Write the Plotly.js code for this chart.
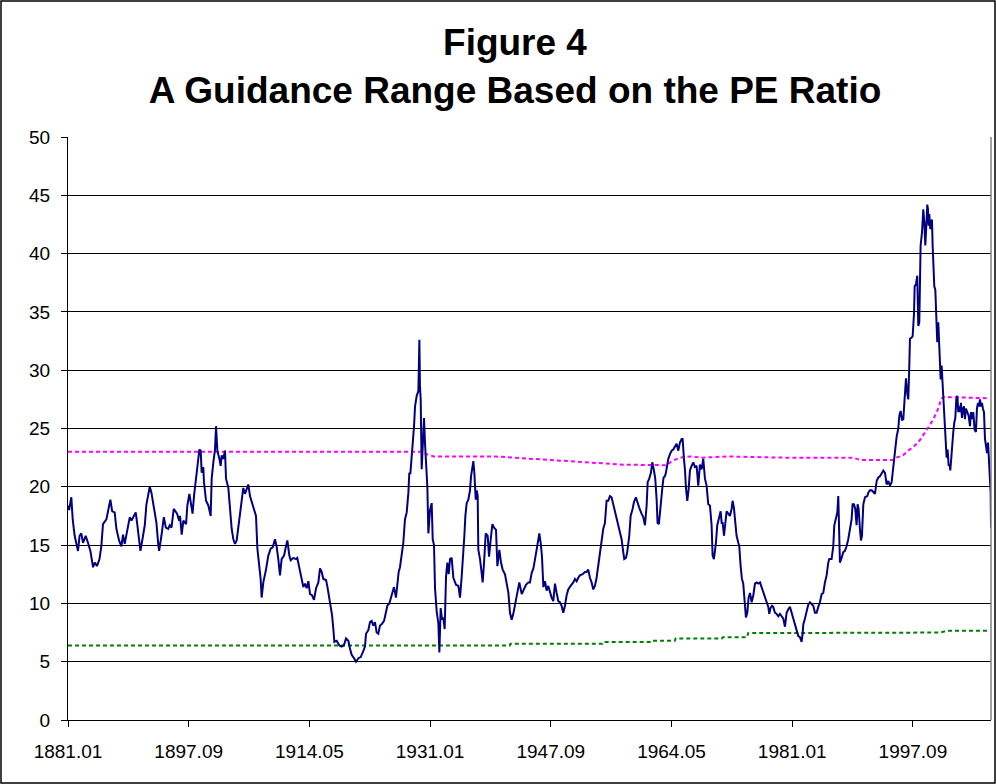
<!DOCTYPE html>
<html>
<head>
<meta charset="utf-8">
<script src="https://cdn.plot.ly/plotly-3.0.1.min.js"></script>
<style>
  html, body { margin: 0; padding: 0; background: #fff; }
  #chart { width: 996px; height: 784px; }
</style>
</head>
<body>
<div id="chart"></div>
<script>
// Monthly PE ratio (decimal year, value)
const peYears = [
1881.00,1881.15,1881.46,1881.65,1881.92,1882.20,1882.38,1882.60,1882.84,1883.07,1883.44,1883.76,1884.09,1884.46,1884.70,1885.00,1885.35,1885.60,1885.83,1886.30,1886.53,1886.85,1887.10,1887.45,1887.68,1888.05,1888.37,1888.60,1888.83,1889.06,1889.30,1889.53,1889.76,1890.08,1890.35,1890.54,1890.82,1891.00,1891.28,1891.60,1891.83,1892.10,1892.29,1892.52,1892.75,1892.98,1893.21,1893.44,1893.58,1893.90,1894.23,1894.51,1894.83,1895.06,1895.29,1895.60,1895.88,1896.06,1896.35,1896.47,1896.70,1896.93,1897.30,1897.48,1897.76,1897.94,1898.20,1898.40,1898.68,1898.86,1899.14,1899.32,1899.46,1899.68,1899.78,1900.06,1900.38,1900.70,1900.84,1901.07,1901.30,1901.44,1901.62,1901.90,1902.08,1902.22,1902.45,1902.68,1902.82,1903.14,1903.37,1903.60,1903.83,1904.06,1904.29,1904.66,1904.98,1905.20,1905.44,1905.67,1905.90,1906.13,1906.36,1906.60,1906.96,1907.15,1907.38,1907.60,1907.74,1907.97,1908.34,1908.66,1908.98,1909.26,1909.58,1909.80,1910.04,1910.27,1910.50,1910.83,1911.10,1911.29,1911.56,1911.75,1912.10,1912.48,1912.66,1913.03,1913.27,1913.50,1913.73,1913.96,1914.19,1914.42,1914.70,1914.97,1915.25,1915.57,1915.80,1916.03,1916.26,1916.63,1916.80,1917.09,1917.27,1917.46,1917.64,1917.78,1918.10,1918.47,1918.79,1919.10,1919.39,1919.71,1919.94,1920.17,1920.50,1920.77,1921.10,1921.42,1921.70,1922.01,1922.15,1922.47,1922.70,1922.93,1923.16,1923.39,1923.62,1923.85,1924.08,1924.31,1924.64,1924.91,1925.10,1925.37,1925.56,1925.83,1926.01,1926.29,1926.48,1926.66,1926.84,1927.08,1927.30,1927.53,1927.77,1928.00,1928.13,1928.27,1928.46,1928.60,1928.78,1928.92,1929.15,1929.38,1929.52,1929.60,1929.70,1929.84,1929.98,1930.16,1930.30,1930.44,1930.62,1930.76,1930.99,1931.22,1931.36,1931.54,1931.68,1931.91,1932.14,1932.28,1932.46,1932.65,1932.83,1933.01,1933.20,1933.38,1933.57,1933.75,1933.98,1934.21,1934.58,1934.90,1935.13,1935.36,1935.59,1935.73,1935.87,1936.05,1936.28,1936.51,1936.65,1936.79,1936.97,1937.11,1937.30,1937.44,1937.57,1937.66,1937.89,1938.12,1938.26,1938.45,1938.68,1938.95,1939.14,1939.37,1939.60,1939.83,1940.10,1940.29,1940.56,1940.79,1941.02,1941.34,1941.58,1941.81,1942.03,1942.26,1942.49,1942.72,1942.96,1943.32,1943.65,1943.97,1944.24,1944.56,1944.79,1945.02,1945.26,1945.49,1945.72,1945.95,1946.08,1946.27,1946.45,1946.64,1946.86,1947.09,1947.32,1947.55,1947.78,1948.01,1948.24,1948.47,1948.70,1948.93,1949.16,1949.39,1949.62,1949.85,1950.08,1950.40,1950.77,1951.00,1951.23,1951.46,1951.69,1952.06,1952.38,1952.61,1952.84,1953.07,1953.30,1953.53,1953.76,1953.99,1954.22,1954.45,1954.68,1954.91,1955.14,1955.37,1955.60,1955.83,1956.06,1956.29,1956.52,1956.75,1956.98,1957.21,1957.44,1957.67,1957.81,1958.04,1958.22,1958.50,1958.69,1958.96,1959.15,1959.42,1959.60,1959.88,1960.20,1960.43,1960.67,1960.90,1961.04,1961.26,1961.49,1961.68,1961.91,1962.09,1962.28,1962.41,1962.59,1962.83,1963.10,1963.24,1963.43,1963.56,1963.89,1964.12,1964.35,1964.58,1964.81,1965.04,1965.27,1965.50,1965.73,1965.87,1966.05,1966.19,1966.33,1966.51,1966.70,1966.88,1967.11,1967.34,1967.57,1967.80,1968.03,1968.26,1968.49,1968.72,1968.95,1969.18,1969.41,1969.64,1969.87,1970.01,1970.19,1970.47,1970.65,1970.93,1971.12,1971.26,1971.40,1971.58,1971.76,1971.94,1972.17,1972.40,1972.63,1972.77,1972.95,1973.14,1973.32,1973.56,1973.69,1973.88,1974.06,1974.24,1974.38,1974.52,1974.61,1974.80,1974.98,1975.17,1975.40,1975.63,1975.86,1976.09,1976.32,1976.55,1976.78,1977.01,1977.24,1977.47,1977.70,1977.83,1978.01,1978.20,1978.38,1978.62,1978.85,1979.08,1979.31,1979.54,1979.77,1980.00,1980.23,1980.46,1980.69,1980.92,1981.15,1981.38,1981.61,1981.84,1982.07,1982.30,1982.44,1982.53,1982.76,1982.99,1983.22,1983.45,1983.68,1983.91,1984.14,1984.37,1984.60,1984.83,1985.06,1985.29,1985.52,1985.75,1985.98,1986.12,1986.44,1986.67,1986.81,1987.04,1987.23,1987.36,1987.59,1987.82,1988.05,1988.28,1988.51,1988.74,1988.97,1989.20,1989.34,1989.52,1989.71,1989.89,1990.03,1990.17,1990.35,1990.49,1990.63,1990.82,1991.05,1991.37,1991.51,1991.74,1991.97,1992.20,1992.43,1992.66,1992.89,1993.12,1993.35,1993.58,1993.81,1994.04,1994.27,1994.50,1994.73,1995.05,1995.19,1995.42,1995.65,1995.79,1995.97,1996.16,1996.34,1996.45,1996.57,1996.71,1996.89,1997.03,1997.17,1997.26,1997.49,1997.63,1997.72,1997.82,1997.91,1998.10,1998.27,1998.41,1998.55,1998.64,1998.73,1998.92,1999.01,1999.10,1999.24,1999.38,1999.56,1999.65,1999.75,1999.84,1999.93,2000.07,2000.21,2000.30,2000.39,2000.48,2000.62,2000.76,2000.85,2000.94,2001.03,2001.17,2001.31,2001.40,2001.50,2001.63,2001.77,2001.86,2002.00,2002.14,2002.23,2002.32,2002.46,2002.60,2002.74,2002.83,2002.97,2003.10,2003.24,2003.38,2003.52,2003.66,2003.80,2003.93,2004.07,2004.16,2004.30,2004.44,2004.58,2004.72,2004.85,2004.99,2005.18,2005.36,2005.55,2005.68,2005.82,2006.00,2006.19,2006.37,2006.51,2006.65,2006.79,2006.93,2007.06,2007.20,2007.34,2007.48,2007.62,2007.76,2007.90,2008.04,2008.17,2008.31,2008.40,2008.45
];
const peValues = [
18.4,18.0,19.1,17.2,15.8,15.0,14.5,15.8,16.0,15.2,15.8,15.2,14.5,13.1,13.5,13.2,13.8,14.9,16.8,17.2,17.8,18.9,17.9,17.8,16.4,15.4,14.9,15.9,15.1,15.9,16.4,17.4,17.1,17.5,17.8,16.9,15.5,14.5,15.5,16.7,18.5,19.5,20.0,19.5,18.7,17.8,16.9,15.2,14.5,15.8,17.4,16.5,16.4,16.7,16.5,18.1,17.8,17.7,17.1,17.5,15.9,17.1,16.8,18.4,19.4,18.7,17.7,19.2,20.7,21.8,23.2,23.1,21.2,21.7,20.4,18.8,18.4,17.5,20.7,22.1,23.2,25.2,23.1,22.4,21.8,22.7,22.4,23.1,20.7,19.9,17.8,16.4,15.5,15.1,15.4,17.5,18.8,19.9,19.4,19.8,20.2,19.2,18.7,18.2,17.5,14.7,13.2,12.1,10.5,11.8,12.9,14.1,14.7,14.8,15.5,14.9,13.8,12.4,13.8,14.1,14.9,15.4,14.1,13.7,13.9,13.8,13.9,12.9,12.2,11.4,11.7,11.3,11.9,10.8,10.7,10.3,11.3,11.8,13.0,12.7,12.1,12.0,11.5,10.4,9.5,9.0,7.8,6.7,6.8,6.4,6.3,6.4,7.0,6.8,6.1,5.6,5.3,5.0,5.3,5.4,5.8,6.3,7.4,7.7,8.4,8.5,8.1,8.4,7.5,7.4,8.1,8.2,8.5,9.3,9.8,10.0,10.5,11.0,11.4,10.5,11.8,12.7,13.1,14.2,15.2,17.2,17.8,19.5,21.2,21.1,22.4,23.5,25.2,26.9,27.8,28.2,32.6,28.6,27.5,21.5,23.2,25.9,23.7,21.7,20.0,16.0,18.0,18.6,15.5,15.0,11.3,9.3,8.3,5.8,9.6,8.6,8.8,7.8,12.3,13.5,12.5,13.8,13.9,12.2,11.6,11.5,10.5,12.3,14.0,15.8,17.5,18.6,18.9,19.7,20.9,21.7,22.2,21.2,18.9,19.7,19.2,14.6,13.8,12.6,11.8,13.5,16.0,15.8,14.0,15.5,16.8,16.5,16.3,13.2,14.6,13.5,12.9,12.5,11.8,10.9,9.2,8.6,9.1,9.9,10.6,11.8,10.8,11.3,11.6,11.8,11.8,12.6,13.0,13.8,14.9,15.5,16.0,15.2,14.0,11.4,11.9,11.1,11.5,10.9,10.5,10.2,11.7,10.9,10.2,10.1,9.8,9.2,9.8,10.7,11.2,11.5,11.8,12.1,11.9,12.2,12.4,12.5,12.7,12.7,12.9,12.2,11.8,11.2,11.5,12.2,13.2,14.4,15.5,16.4,16.9,18.8,18.8,19.2,19.1,18.5,17.8,17.2,16.7,16.2,15.5,14.4,13.8,13.9,14.4,15.8,17.5,18.1,18.7,19.1,18.7,18.2,17.7,17.4,16.7,18.4,20.4,20.7,21.2,22.1,21.4,20.7,18.9,16.9,16.8,18.7,20.1,20.8,20.9,21.2,22.4,22.8,23.1,23.2,23.5,23.7,23.1,23.8,24.1,24.1,22.4,21.5,19.9,18.8,19.8,21.4,21.8,22.1,21.7,21.8,20.1,21.9,21.5,22.4,20.7,20.1,18.5,18.4,16.7,14.1,13.8,15.2,16.7,17.4,17.9,16.9,16.9,15.8,17.2,17.9,17.7,17.5,18.1,18.8,18.2,17.2,15.8,15.2,14.9,13.2,12.1,11.7,10.7,9.5,8.8,9.2,10.5,10.9,10.1,10.7,11.7,11.8,11.7,11.8,11.4,10.9,10.5,10.1,9.7,9.1,9.6,9.8,9.7,9.2,9.1,8.9,9.1,8.9,8.7,8.0,9.2,9.5,9.7,9.2,8.7,8.1,7.7,7.2,7.1,6.7,7.4,8.2,8.7,9.4,9.9,10.1,9.9,9.8,9.2,9.2,9.7,10.1,10.8,10.9,11.8,12.4,13.5,13.8,13.8,14.9,16.7,17.2,17.8,19.2,13.5,13.9,14.4,14.5,14.9,15.5,16.4,17.2,18.5,18.5,18.1,16.7,18.5,18.1,16.4,15.4,15.8,18.5,19.1,19.2,19.5,19.7,19.7,19.5,19.4,20.5,20.8,20.9,21.2,21.4,21.2,20.2,20.5,20.1,20.4,22.4,22.9,24.3,25.0,26.1,26.5,25.7,25.8,26.9,28.0,29.3,28.0,27.5,30.4,32.7,32.8,32.9,33.8,34.9,37.2,37.4,38.1,33.8,34.1,38.4,40.7,41.8,43.2,43.8,42.7,40.7,42.9,44.2,43.8,42.4,43.4,42.1,42.8,42.9,40.7,38.9,37.2,36.9,35.5,34.1,32.4,34.1,31.8,30.4,29.2,30.4,28.7,27.7,26.9,24.7,23.5,22.5,23.2,21.8,21.9,21.4,22.5,23.8,24.7,25.5,25.9,27.5,27.8,26.4,26.9,26.4,27.2,25.9,26.7,26.9,25.8,26.7,26.4,26.1,25.2,26.4,25.8,26.4,24.9,24.7,26.7,27.2,26.9,27.5,26.9,27.2,26.7,26.4,24.1,23.5,22.9,23.8,21.8,21.2,19.5,16.5
];

// Upper guidance line (magenta dotted)
const upperYears  = [1881.0,1929.9,1930.5,1931.5,1940.0,1947.0,1950.0,1957.7,1963.7,1964.35,1965.5,1967.0,1968.5,1972.0,1980.0,1989.4,1990.4,1994.9,1995.4,1996.3,1997.0,1997.7,1998.4,1999.1,1999.8,2000.5,2000.9,2001.3,2001.5,2001.9,2007.9];
const upperValues = [23.0,23.0,22.8,22.6,22.6,22.3,22.2,21.9,21.85,22.2,22.5,22.6,22.5,22.6,22.5,22.5,22.3,22.3,22.5,22.7,23.1,23.4,23.8,24.4,25.1,25.8,26.4,26.9,27.5,27.7,27.6];

// Lower guidance line (green dotted)
const lowerYears  = [1881.0,1942.0,1942.1,1954.8,1954.9,1961.5,1961.6,1964.8,1964.9,1971.3,1971.4,1974.8,1974.9,2001.5,2002.3,2008.3];
const lowerValues = [6.4,6.4,6.55,6.55,6.7,6.7,6.8,6.8,7.0,7.0,7.1,7.1,7.45,7.5,7.65,7.65];

// Category labels shown on the x axis
const xTickLabels = ['1881.01','1897.09','1914.05','1931.01','1947.09','1964.05','1981.01','1997.09'];
const xTickVals = xTickLabels.map(s => { const [y, m] = s.split('.'); return +y + (+m - 1) / 12; });
const yTickVals = [0,5,10,15,20,25,30,35,40,45,50];

const FONT = 'Liberation Sans, Arial, Helvetica, sans-serif';
const L = 68, R = 5, T = 137, B = 64, W = 996, H = 784;
const pw = W - L - R, ph = H - T - B;

const traces = [
  { x: upperYears, y: upperValues, type: 'scatter', mode: 'lines', name: 'Upper',
    line: { color: '#FF00FF', width: 2, dash: '4px,3px' }, hoverinfo: 'x+y' },
  { x: lowerYears, y: lowerValues, type: 'scatter', mode: 'lines', name: 'Lower',
    line: { color: '#008000', width: 2, dash: '4px,3px' }, hoverinfo: 'x+y' },
  { x: peYears, y: peValues, type: 'scatter', mode: 'lines', name: 'PE Ratio',
    line: { color: '#000080', width: 2 }, hoverinfo: 'x+y' }
];

const layout = {
  width: W, height: H,
  margin: { l: L, r: R, t: T, b: B, pad: 0 },
  paper_bgcolor: '#ffffff', plot_bgcolor: '#ffffff',
  showlegend: false,
  title: {
    text: 'Figure 4<br>A Guidance Range Based on the PE Ratio',
    font: { family: FONT, size: 37, color: '#000', weight: 'bold' },
    x: 515 / W, xref: 'container', xanchor: 'center',
    y: 1 - 55 / H, yref: 'container', yanchor: 'top'
  },
  xaxis: {
    range: [1881.0, 2008.45],
    tickmode: 'array', tickvals: xTickVals, ticktext: xTickLabels,
    ticks: 'outside', ticklen: 6, tickcolor: '#000', tickwidth: 1,
    showgrid: false, zeroline: false,
    showline: true, linecolor: '#000', linewidth: 1, mirror: false,
    tickfont: { family: FONT, size: 19, color: '#000' },
    ticklabelstandoff: 8,
    fixedrange: true
  },
  yaxis: {
    range: [0, 50],
    tickmode: 'array', tickvals: yTickVals,
    ticks: 'outside', ticklen: 6, tickcolor: '#000', tickwidth: 1,
    showgrid: true, gridcolor: '#000', gridwidth: 1,
    zeroline: false,
    showline: true, linecolor: '#000', linewidth: 1, mirror: false,
    tickfont: { family: FONT, size: 19, color: '#000' },
    ticklabelstandoff: 7,
    fixedrange: true
  },
  shapes: [
    // plot area border (right side, grey)
    { type: 'line', xref: 'paper', yref: 'paper', x0: 1, x1: 1, y0: 0, y1: 1,
      line: { color: '#808080', width: 1.5 } },
    // outer chart frame
    { type: 'rect', xref: 'paper', yref: 'paper',
      x0: (1 - L) / pw, x1: (W - 1 - L) / pw,
      y0: ((T + ph) - (H - 1)) / ph, y1: (T + ph - 1) / ph,
      line: { color: '#000', width: 1.5 }, fillcolor: 'rgba(0,0,0,0)' }
  ]
};

Plotly.newPlot('chart', traces, layout, { displayModeBar: false, staticPlot: true });
</script>
</body>
</html>
